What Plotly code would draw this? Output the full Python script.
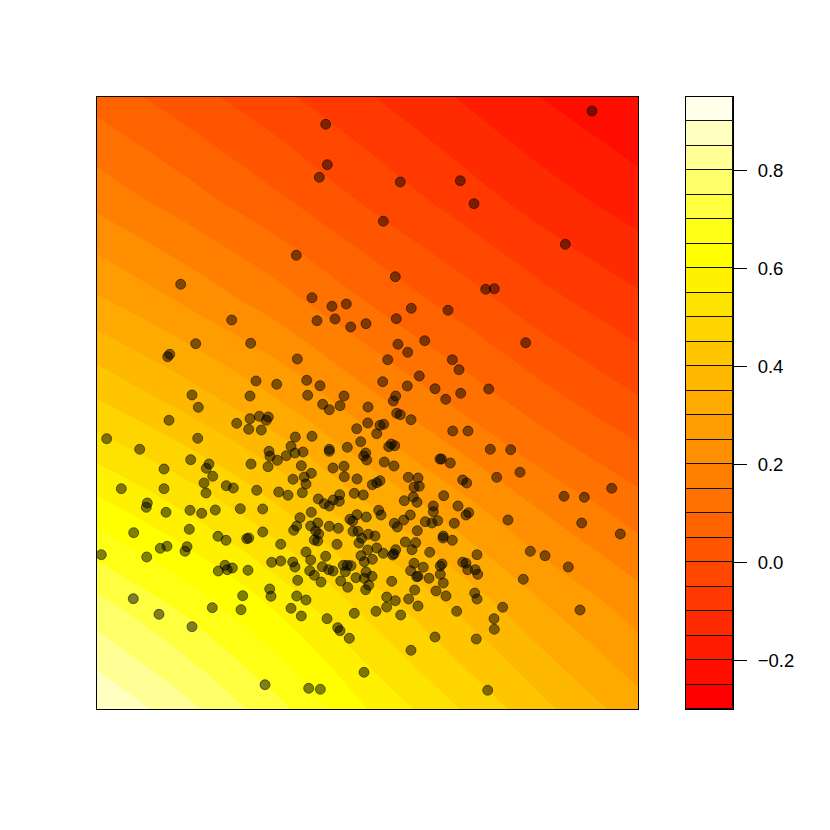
import plotly.graph_objects as go

# Surface read from band boundaries (axis units are arbitrary, image has no axis ticks)
grid_x = [97, 187, 277, 367, 458, 548, 638]
grid_y = [97, 199, 301, 403, 505, 607, 709]
grid_z = [
    [0.080, 0.021, -0.037, -0.095, -0.152, -0.205, -0.250],
    [0.182, 0.121, 0.058, -0.009, -0.071, -0.129, -0.177],
    [0.308, 0.242, 0.173, 0.098, 0.029, -0.036, -0.090],
    [0.455, 0.383, 0.306, 0.219, 0.141, 0.068, 0.007],
    [0.615, 0.538, 0.451, 0.353, 0.268, 0.187, 0.120],
    [0.770, 0.687, 0.593, 0.485, 0.391, 0.301, 0.227],
    [0.900, 0.815, 0.716, 0.600, 0.502, 0.407, 0.320],
]

level_start = -0.3
level_end = 0.95
level_step = 0.05
band_colors = [
    "#FF0000", "#FF0E00", "#FF1C00", "#FF2B00", "#FF3900", "#FF4700", "#FF5500",
    "#FF6300", "#FF7100", "#FF8000", "#FF8E00", "#FF9C00", "#FFAA00", "#FFB800",
    "#FFC600", "#FFD500", "#FFE300", "#FFF100", "#FFFF00", "#FFFF15", "#FFFF40",
    "#FFFF6A", "#FFFF95", "#FFFFBF", "#FFFFEA",
]
bar_ticks = [-0.2, 0.0, 0.2, 0.4, 0.6, 0.8]
bar_tick_labels = ["\u22120.2", "0.0", "0.2", "0.4", "0.6", "0.8"]

point_x = [
    325.7, 327.3, 319.3, 296.3, 180.7, 312, 332, 346.3, 317, 335, 350.7, 366, 231.7, 195.7, 250.7, 297.3,
    169.7, 167.7, 256, 276.7, 306.7, 320, 307.7, 344, 192, 250,
    592, 400.3, 460.3, 474, 383.3, 565.3, 395.3, 485.7, 494.3, 411.3, 448, 396.3, 424.7, 398, 407.7, 525.7,
    387.7, 452.3, 459, 419.3, 382.7, 407.3, 435, 488.7, 460.7, 395.7, 445.7, 393.3,
    198.3, 169, 236.7, 250, 259.3, 268.3, 266.3, 248.7, 261.3, 106.7, 197.7, 139.7, 269, 270, 277.3, 190.7,
    209, 206.3, 164, 251, 268, 212.7, 204, 226.3, 233.3, 121.3, 164, 206, 256.7, 278.7, 147.3, 146.3, 166,
    190, 201.7, 215.3, 240.3, 262.7, 133.7, 189.3, 218, 226, 246.7, 248.7, 262.7, 280.7, 101.3, 146.7, 160.3,
    167, 187, 185, 271.7, 280.7, 225, 232.3, 227.3, 218.3, 248, 269.7, 271, 242.7, 133.3, 212.3, 241, 159,
    192, 265,
    322.7, 329.3, 340, 368, 396.7, 400.3, 411, 367.7, 383.7, 380, 356.7, 376.7, 452.7, 295.3, 312, 360.7,
    291, 347.3, 329.3, 329.3, 391.3, 388.7, 394.7, 303, 295, 286.3, 365.7, 363.7, 366.7, 440, 441.5, 450.3,
    384.3, 394, 301.3, 333, 344, 311.3, 304.3, 293, 306, 344.3, 357, 408.3, 418, 380, 376.7, 372.3, 414,
    419.3, 302.3, 288, 354.3, 363.3, 339.7, 318.3, 333.3, 339.3, 324.3, 329.3, 413.3, 404.3, 417,
    443.7, 433.3, 433.3, 378.7, 381, 311.3, 357, 366.3, 350, 352.7, 410.3, 403.7, 300, 425.3, 437.7,
    432, 454.3, 317.7, 296.7, 293.7, 310.7, 329.3, 338.3, 394.3, 397.3, 417.3, 315.7, 318.7, 353, 358, 368.3,
    375, 361.7, 314.3, 317.7, 359, 443.3, 443, 452.3, 405.3, 415.7, 337, 376.7, 367.7, 412, 395.7, 394,
    392.7, 383.3, 429.7, 306, 361, 325.7, 372.3, 292.7, 310.7,
    295, 364.3, 322.3, 328.7, 333, 309.7, 314.3, 343.3, 347.3, 351, 345.3, 297.7, 321, 340.7, 356, 364.3,
    372, 366, 368.7, 365.7, 347.7, 391.7, 414, 410.7, 423.3, 442, 440.3, 440.3, 416.7, 418, 429,
    443.3, 414.7, 436, 446, 386.7, 395.3, 408.7, 386.7, 418, 400.7, 376, 354.3, 296.7, 306, 291, 301.3,
    327, 337.7, 340, 349.3, 435, 411, 364, 308.7, 320.3,
    468, 490.3, 510.7, 520, 496.7, 462.7, 466.7, 564, 584.3, 611.7, 458, 468.7, 466, 508, 581.7, 620.3,
    477, 530.3, 545, 462.7, 466, 467.7, 475.3, 477.7, 568.3, 523.3, 474.7, 477, 502.7, 456.7, 580, 494,
    494.3, 476.3, 487.7,
]
point_y = [
    124.3, 164.7, 177.3, 255.3, 284.3, 297.7, 306.3, 304, 320.7, 319, 327, 323.7, 320, 343.7, 343.3, 359,
    354.3, 356.7, 381, 384.3, 380.3, 385.7, 395.3, 396, 395, 396,
    111, 182, 180.7, 203.7, 221.3, 244.3, 276.7, 289.3, 288.7, 308.3, 310.3, 318.7, 340.7, 344.3, 352.3, 342.7,
    359.7, 359.7, 369.7, 376, 381.7, 386, 388.7, 389, 393.3, 396, 399.3, 401,
    407.3, 420.3, 423.3, 418.7, 416.3, 417, 420.3, 429.3, 430, 438.7, 438.3, 449.3, 451.3, 456.3, 460.3, 459.7,
    464, 468.3, 469, 464, 466.7, 476.3, 483, 485.7, 488, 488.7, 488.7, 493, 490.3, 492, 503, 507.3, 512.3,
    510.3, 513.3, 510, 508.7, 509, 532.7, 529.3, 536.3, 540.3, 538.7, 538, 532, 544.3, 554.7, 557, 548.3,
    546.3, 546.7, 551.3, 562.3, 561, 565.3, 568, 569.7, 571, 570.3, 589, 596.3, 595.7, 598.7, 607.7, 609.7, 614.3,
    626.7, 684.7,
    404.3, 409.7, 405.7, 407, 413.3, 414.7, 419.7, 423, 424.3, 425.3, 428.7, 433.7, 431, 437, 436.3, 441.7,
    446.3, 447.3, 449.3, 451.3, 444, 446.7, 445.7, 452, 453, 455.7, 453, 456, 460, 459, 459, 463,
    462, 466, 465.7, 468, 466.3, 473.3, 477, 479.3, 484, 476.7, 479, 477.3, 478, 480.7, 482.7, 484.7, 487.3,
    486.3, 492.7, 495.3, 493.3, 495, 494.7, 499, 500, 501.3, 503.7, 506, 497, 500.7, 502.3,
    495.7, 506, 511.7, 510.3, 515, 512.3, 514.7, 517, 519.3, 521, 515, 520, 517.7, 521.7, 520.7,
    523, 523.3, 523, 526, 530.3, 526, 526.3, 528.3, 523.3, 527, 530.7, 531, 534, 531.3, 531.3, 534.3,
    536, 538.3, 540, 541, 543, 536, 538, 540.3, 542, 542.7, 544.3, 548, 550, 549.7, 549.7, 553.7,
    555, 553.3, 552.3, 552, 555.7, 556.3, 559.3, 562, 560,
    567, 561.7, 566.7, 569.7, 571, 570.7, 575.3, 565.3, 565.3, 565.7, 571.7, 580.3, 582, 581, 577.7, 578.3,
    576.3, 572, 585.3, 589.7, 587.3, 581.3, 563.3, 570.7, 567.3, 564, 566, 574.3, 576.7, 576.3, 578.3,
    583, 590, 591, 596, 597, 600.7, 599, 607, 606, 615, 611.3, 613.3, 596, 600, 608.3, 616,
    618.7, 627.7, 630.7, 638.3, 637, 650.3, 672.3, 688.3, 689.3,
    431, 449.3, 449.7, 472.3, 477.3, 480, 483, 496.3, 497.3, 488.3, 506, 512.7, 515, 520, 523, 534,
    554.7, 551.3, 555.7, 562.3, 563.3, 569.7, 569.7, 574.3, 567, 579.3, 593, 599, 607.3, 611.3, 610, 618.7,
    629.3, 639, 690.3,
]

W, H = 830, 830
n = len(band_colors)
# Plotly samples a filled band k at s=(k+1)/(n+1) of the colorscale
scale = [[0.0, band_colors[0]]] + [[(k + 1) / (n + 1), band_colors[k]] for k in range(n)] + [[1.0, band_colors[-1]]]

fig = go.Figure()
fig.add_trace(go.Contour(
    x=grid_x, y=grid_y, z=grid_z,
    autocontour=False,
    contours=dict(start=level_start, end=level_end, size=level_step, coloring="fill", showlines=False),
    line=dict(width=0, smoothing=1.3),
    colorscale=scale, showscale=False, hoverinfo="skip",
    xaxis="x", yaxis="y",
))
fig.add_trace(go.Scatter(
    x=point_x, y=point_y, mode="markers",
    marker=dict(size=10, color="rgba(0,0,0,0.5)", line=dict(width=1, color="rgba(0,0,0,0.5)")),
    showlegend=False, hoverinfo="skip", xaxis="x", yaxis="y",
))
fig.add_trace(go.Bar(
    x=[0] * n,
    y=[level_step] * n,
    base=[level_start + k * level_step for k in range(n)],
    width=1,
    marker=dict(color=band_colors, line=dict(color="#111111", width=1)),
    showlegend=False, hoverinfo="skip", xaxis="x2", yaxis="y2",
))

fig.update_layout(
    width=W, height=H,
    margin=dict(l=0, r=0, t=0, b=0),
    paper_bgcolor="white", plot_bgcolor="white",
    showlegend=False, bargap=0,
    font=dict(family="Liberation Sans, Arial, sans-serif", size=16, color="black"),
    xaxis=dict(domain=[97 / W, 638 / W], range=[97, 638], showgrid=False, zeroline=False,
               showticklabels=False, ticks="", showline=True, linecolor="black", linewidth=1, mirror=True, anchor="y"),
    yaxis=dict(domain=[1 - 709 / H, 1 - 97 / H], range=[709, 97], showgrid=False, zeroline=False,
               showticklabels=False, ticks="", showline=True, linecolor="black", linewidth=1, mirror=True, anchor="x"),
    xaxis2=dict(domain=[686 / W, 733 / W], range=[-0.5, 0.5], showgrid=False, zeroline=False,
                showticklabels=False, ticks="", showline=True, linecolor="black", linewidth=1, mirror=True, anchor="y2"),
    yaxis2=dict(domain=[1 - 709 / H, 1 - 97 / H], range=[level_start, level_end], side="right", anchor="x2",
                showgrid=False, zeroline=False, tickmode="array", tickvals=bar_ticks, ticktext=bar_tick_labels,
                ticks="outside", ticklen=13, tickwidth=1, tickcolor="black", ticklabelstandoff=7,
                showline=True, linecolor="black", linewidth=1, mirror=True,
                tickfont=dict(family="Liberation Sans, Arial, sans-serif", size=18.5, color="black")),
)

fig.write_html("out.html", config={"displayModeBar": False},
               post_script="document.body.style.margin='0';document.body.style.overflow='hidden';")
